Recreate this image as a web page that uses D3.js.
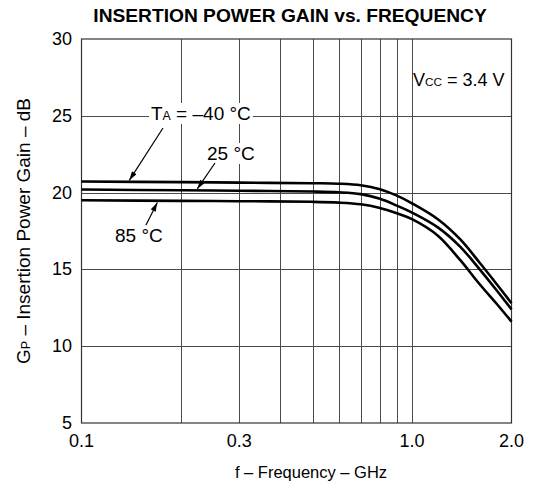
<!DOCTYPE html>
<html>
<head>
<meta charset="utf-8">
<script src="https://cdn.jsdelivr.net/npm/d3@7"></script>
<style>
  html, body { margin: 0; padding: 0; background: #fff; }
  svg { display: block; font-family: Arial, "Liberation Sans", Helvetica, sans-serif; }
</style>
</head>
<body>
<svg id="chart" width="534" height="494"></svg>
<script>
"use strict";

// frequency points (GHz)
var freqs = [0.1, 0.2, 0.3, 0.5, 0.6, 0.7, 0.8, 0.9, 1.0, 1.2, 1.4, 1.6, 1.8, 2.0];

// insertion power gain (dB) per ambient temperature
var gainM40 = [20.72, 20.68, 20.65, 20.61, 20.58, 20.48, 20.22, 19.8, 19.3, 18.25, 16.95, 15.45, 14.07, 12.8];
var gain25  = [20.2, 20.15, 20.12, 20.07, 20.02, 19.9, 19.6, 19.15, 18.7, 17.72, 16.47, 15.02, 13.66, 12.4];
var gain85  = [19.5, 19.46, 19.44, 19.4, 19.35, 19.24, 19.0, 18.65, 18.27, 17.18, 15.6, 14.05, 12.78, 11.6];

var xGrid = [0.2, 0.3, 0.4, 0.5, 0.6, 0.7, 0.8, 0.9, 1.0];
var xTickLabels = [0.1, 0.3, 1.0, 2.0];
var yTicks = [5, 10, 15, 20, 25, 30];

var svg = d3.select("#chart"),
    margin = {top: 39, right: 22.5, bottom: 71, left: 81.5},
    width = +svg.attr("width") - margin.left - margin.right,
    height = +svg.attr("height") - margin.top - margin.bottom;

var x = d3.scaleLog().domain([0.1, 2.0]).range([margin.left, margin.left + width]);
var y = d3.scaleLinear().domain([5, 30]).range([margin.top + height, margin.top]);

// title
svg.append("text")
    .attr("x", 290)
    .attr("y", 22)
    .attr("text-anchor", "middle")
    .attr("font-size", "19.2px")
    .attr("font-weight", "bold")
    .text("INSERTION POWER GAIN vs. FREQUENCY");

// grid
var grid = svg.append("g").attr("stroke", "#4a4a4a").attr("stroke-width", 1);

grid.selectAll("line.v")
    .data(xGrid)
  .enter().append("line")
    .attr("class", "v")
    .attr("x1", function(d) { return Math.round(x(d)) + 0.5; })
    .attr("x2", function(d) { return Math.round(x(d)) + 0.5; })
    .attr("y1", y(30))
    .attr("y2", y(5));

grid.selectAll("line.h")
    .data(yTicks.slice(1, -1))
  .enter().append("line")
    .attr("class", "h")
    .attr("x1", x(0.1))
    .attr("x2", x(2.0))
    .attr("y1", function(d) { return Math.round(y(d)) + 0.5; })
    .attr("y2", function(d) { return Math.round(y(d)) + 0.5; });

// frame
svg.append("rect")
    .attr("x", x(0.1))
    .attr("y", y(30))
    .attr("width", width)
    .attr("height", height)
    .attr("fill", "none")
    .attr("stroke", "#333")
    .attr("stroke-width", 1.2);

// y tick labels
svg.append("g").selectAll("text")
    .data(yTicks)
  .enter().append("text")
    .attr("x", 72)
    .attr("y", function(d) { return y(d) + 6; })
    .attr("text-anchor", "end")
    .attr("font-size", "18px")
    .text(function(d) { return d; });

// x tick labels
svg.append("g").selectAll("text")
    .data(xTickLabels)
  .enter().append("text")
    .attr("x", function(d) { return x(d); })
    .attr("y", 447)
    .attr("text-anchor", "middle")
    .attr("font-size", "18px")
    .text(function(d) { return d.toFixed(1); });

// axis titles
svg.append("text")
    .attr("x", 311)
    .attr("y", 478)
    .attr("text-anchor", "middle")
    .attr("font-size", "16.5px")
    .text("f – Frequency – GHz");

var yTitle = svg.append("text")
    .attr("transform", "translate(30," + (margin.top + height / 2) + ") rotate(-90)")
    .attr("text-anchor", "middle")
    .attr("font-size", "19px");
yTitle.append("tspan").text("G");
yTitle.append("tspan").attr("font-size", "12.5px").text("P");
yTitle.append("tspan").text(" – Insertion Power Gain – dB");

// curves
var line = d3.line()
    .x(function(d) { return x(d[0]); })
    .y(function(d) { return y(d[1]); })
    .curve(d3.curveCatmullRom.alpha(0.5));

[gainM40, gain25, gain85].forEach(function(series) {
  svg.append("path")
      .datum(freqs.map(function(f, i) { return [f, series[i]]; }))
      .attr("fill", "none")
      .attr("stroke", "#000")
      .attr("stroke-width", 2.6)
      .attr("stroke-linejoin", "round")
      .attr("d", line);
});

// arrowheads
svg.append("defs").append("marker")
    .attr("id", "arr")
    .attr("viewBox", "0 0 10 6")
    .attr("refX", 10)
    .attr("refY", 3)
    .attr("markerWidth", 11)
    .attr("markerHeight", 5.5)
    .attr("markerUnits", "userSpaceOnUse")
    .attr("orient", "auto")
  .append("path")
    .attr("d", "M0,0 L10,3 L0,6 Z")
    .attr("fill", "#000");

// labels, optionally with white backing so grid lines stop at the text
function label(text, sub, rest, tx, ty, fs, backed) {
  var t = svg.append("text")
      .attr("x", tx)
      .attr("y", ty)
      .attr("font-size", fs + "px");
  t.append("tspan").text(text);
  if (sub) t.append("tspan").attr("font-size", (fs * 0.65) + "px").text(sub);
  t.append("tspan").text(rest);
  if (!backed) return;
  var b = t.node().getBBox();
  svg.insert("rect", function() { return t.node(); })
      .attr("x", b.x - 2)
      .attr("y", b.y)
      .attr("width", b.width + 4)
      .attr("height", b.height)
      .attr("fill", "#fff");
}

label("T", "A", " = –40 °C", 151, 120, 19, true);
label("25 °C", "", "", 207, 160, 19, true);
label("85 °C", "", "", 115, 242, 19, true);
label("V", "CC", " = 3.4 V", 413, 86, 18, false);

function arrow(x1, y1, x2, y2) {
  svg.append("line")
      .attr("x1", x1).attr("y1", y1)
      .attr("x2", x2).attr("y2", y2)
      .attr("stroke", "#000")
      .attr("stroke-width", 1.2)
      .attr("marker-end", "url(#arr)");
}

arrow(163, 128, x(0.1395), y(20.7) - 1.5);
arrow(215, 163, x(0.224), y(20.14) - 1.5);
arrow(146, 225, x(0.1696), y(19.46) + 1.5);
</script>
</body>
</html>
